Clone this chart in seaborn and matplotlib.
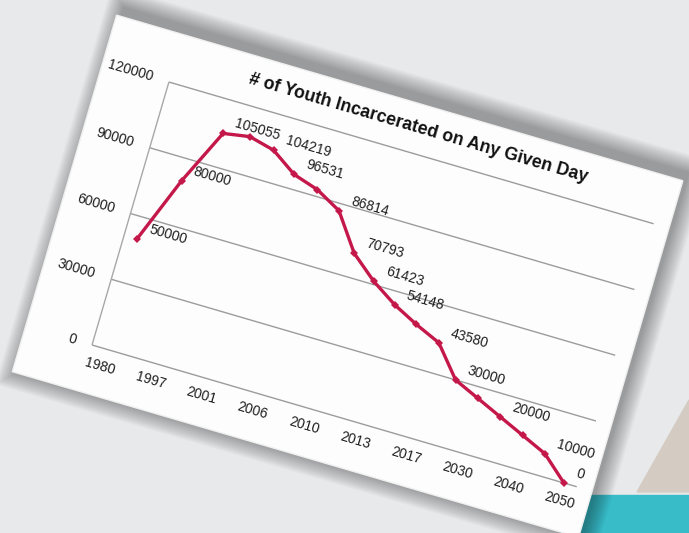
import matplotlib
matplotlib.use("Agg")
import matplotlib.pyplot as plt
from matplotlib.patches import Rectangle, Polygon
from matplotlib.transforms import Affine2D
import seaborn as sns

sns.set_style("white")
plt.rcParams["font.family"] = ["Liberation Sans", "DejaVu Sans"]

# ---------------- data ----------------
years = ["1980", "1997", "2001", "2006", "2010", "2013", "2017", "2030", "2040", "2050"]
youth = [50000, 80000, 105055, 107000, 104219, 96531, 93000, 86814, 70793, 61423,
         54148, 48500, 43580, 30000, 25000, 20000, 15000, 10000, 0]
labelled = [0, 1, 2, 4, 5, 7, 8, 9, 10, 12, 13, 15, 17, 18]
yticks = [0, 30000, 60000, 90000, 120000]
title = "# of Youth Incarcerated on Any Given Day"

# ---------------- figure / rotated frame ----------------
W, H = 689, 533
fig = plt.figure(figsize=(W / 100, H / 100), dpi=100)
fig.patch.set_facecolor("#e8e9eb")

ox, oy = 92, H - 345          # bottom-left of plot area (display px)
angle = -16.3
rot = Affine2D().rotate_deg_around(ox, oy, angle)
pix = Affine2D().translate(ox, oy) + rot   # local px frame of the chart

bg = fig.add_axes([0, 0, 1, 1])
bg.set_xlim(0, W)
bg.set_ylim(H, 0)
bg.axis("off")

# slide decoration
bg.add_patch(Rectangle((560, 495), 140, 50, color="#38bcc8", zorder=1))
bg.add_patch(Polygon([(637, 492), (689, 400), (689, 492)], color="#d4ccc3", zorder=1))

# soft card shadow + card
for k in range(18):
    bg.add_patch(Rectangle((-69 + 4 - k, -48 - k), 590 + 2 * k, 371.5 + 10 + 2 * k,
                           transform=pix, color="#000000", alpha=0.018, lw=0, zorder=2))
bg.add_patch(Rectangle((-69, -48), 590, 371.5, transform=pix,
                       facecolor="#fdfdfd", edgecolor="#f0f0f0", lw=1, zorder=3))

# ---------------- chart ----------------
ax = fig.add_axes([ox / W, oy / H, 505 / W, 274 / H])
ax.patch.set_alpha(0)
ax.set_xlim(-0.5, 18.5)
ax.set_ylim(0, 120000)
trans = ax.transData + rot

ax.hlines(yticks, -0.5, 18.5, transform=trans, colors="#9c9c9c", lw=1, clip_on=False)
ax.vlines([-0.5], 0, 120000, transform=trans, colors="#a8a8a8", lw=1, clip_on=False)

sns.lineplot(x=list(range(len(youth))), y=youth, ax=ax, color="#c4184a", lw=2.4,
             marker="D", markersize=4, markeredgewidth=0, transform=trans, clip_on=False)

ax.set_xlim(-0.5, 18.5)
ax.set_ylim(0, 120000)
ax.axis("off")

txt = "#1e1e1e"
ytr = ax.transData + Affine2D().translate(-17, 0) + rot
for v in yticks:
    ax.text(-0.5, v, str(v), transform=ytr, ha="right", va="center", fontsize=10,
            color=txt, rotation=angle, rotation_mode="anchor")

xtr = ax.transData + Affine2D().translate(0, -18) + rot
for i, yr in enumerate(years):
    ax.text(i * 2, 0, yr, transform=xtr, ha="center", va="center", fontsize=10,
            color=txt, rotation=angle, rotation_mode="anchor")

ltr = ax.transData + Affine2D().translate(9, 13) + rot
for i in labelled:
    ax.text(i, youth[i], str(youth[i]), transform=ltr, ha="left", va="center",
            fontsize=10, color=txt, rotation=angle, rotation_mode="anchor")

ttr = ax.transData + Affine2D().translate(0, 26) + rot
ax.text(9, 120000, title, transform=ttr, ha="center", va="center", fontsize=12.8,
        fontweight="bold", color="#111111", rotation=angle, rotation_mode="anchor")

fig.savefig("out.png", dpi=100)
